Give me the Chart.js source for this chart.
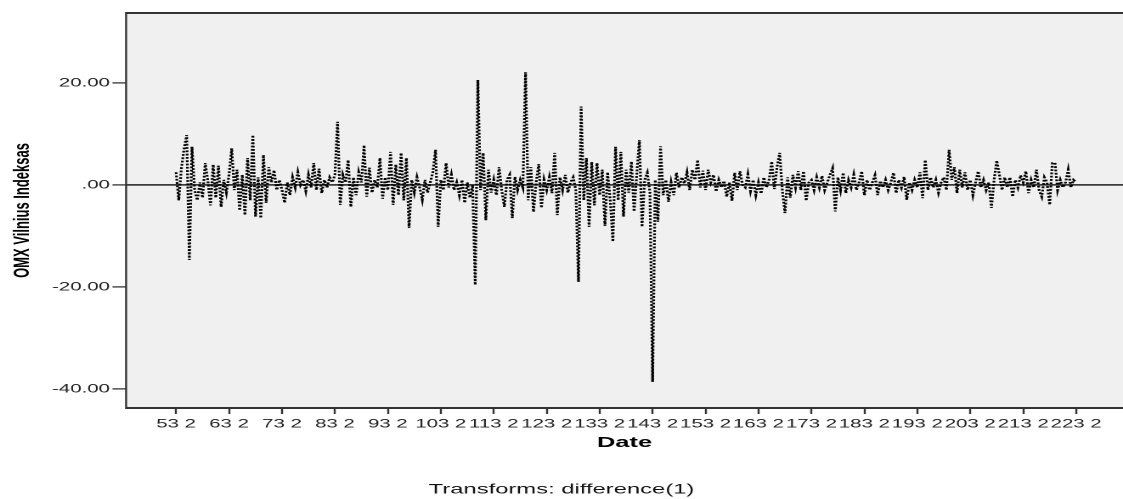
<!DOCTYPE html>
<html>
<head>
<meta charset="utf-8">
<title>OMX Vilnius Indeksas</title>
<script src="https://cdn.jsdelivr.net/npm/chart.js@4/dist/chart.umd.min.js"></script>
<style>
  html, body { margin: 0; padding: 0; background: #fff; overflow: hidden; }
  #omxChart { display: block; }
</style>
</head>
<body>
<canvas id="omxChart" width="661" height="499" style="width:1123px;height:499px"></canvas>
<script>
// date axis labels, one every 20 observations
const dateTicks = ['53 2', '63 2', '73 2', '83 2', '93 2', '103 2', '113 2', '123 2', '133 2',
  '143 2', '153 2', '163 2', '173 2', '183 2', '193 2', '203 2', '213 2', '223 2'];
const obsPerTick = 20;

const yTicks = [-40, -20, 0, 20];

// first difference of the index
const omxDiff = [
  2.5, -3, 3.3, 7, 9.8, -14.7, 7.5, -1, -3, 0.5, -2.5, 4.3, 0.8, -4, 4, -2.5, 3.8, -4.3, 1, -1.5,
  2, 7.2, -1, 3, -5, 2, -5.9, 5.3, -3, 9.8, -6.2, 1.5, -6.5, 5.9, -3.5, 3.5, 0.5, 2.9, -1, 1,
  -1, -3.5, 0.5, -2, 1.5, -0.5, 2.5, 0, 1, -1.2, 2, -0.5, 4.3, -1, 3.2, -1.6, 1, -0.5, 1.5, 0.5,
  2, 12.4, -3.9, 2, 0.5, 4.9, -4.3, 1.5, -2, 2.5, 0.5, 7.8, -2.3, 3.4, -1.5, 1, -0.5, 5.3, -2.7, 1.5,
  -1, 6.5, -3.9, 4, -2, 6.3, -3, 5.3, -8.4, 1, -1.5, 1.5, -0.5, -2.9, 1, -1.5, 0.5, 2.5, 6.9, -8.2,
  1, -1, 4.3, -0.5, 2, -1, 0.5, -2, 1, -3.5, 0.5, -2.5, 0, -19.6, 20.6, -1, 6.3, -6.9, 3, -1.5,
  1, -2, 3.5, -1, -4.3, 1, 2, -6.5, 1.6, -1, 1, -0.5, 22.1, -3, 3.5, -5.3, 0.5, 4.1, -4.5, 1,
  -1, 1.5, -1.6, 6.3, -5.9, 1.5, -1, 2, -1.5, 0.5, 1.5, -1, -19, 15.4, -3, 5.3, -8.2, 4.5, -4, 4.3,
  -2, 3, -8, 2.5, -3, -11.1, 7.5, -3, 6.5, -6.2, 3, -1.5, 4.6, -5.2, 2, 8.8, -8.2, 1, 2.4, -1.5,
  -38.6, 1, -7.2, 7.6, -2, 1, -3.3, 0.5, -2, 2.4, -0.5, 1.5, 0.3, 2.5, -1, 3, 1, 4.9, -0.5, 2.8,
  -1, 3, 0.5, 2, -1.3, 1, -0.5, 0.8, -2.3, 0.5, -3.1, 2.4, -1, 2.7, 0, -0.5, 2.1, -1.2, 1, -2,
  0.5, -1.7, 1.5, -0.5, 1, 4.6, -0.8, 3.5, 6.3, -1, -5.5, 1.5, -2.5, 2, -0.5, 2.7, -1, 2.7, -3.1, 0.5,
  1, -1, 1.5, -0.5, 1.8, -1, 0.5, 2, 3.3, -5.2, 1.5, -1, 2.4, -1.6, 1, -0.5, 2, -1, 0.5, 2.7,
  -2, 1, -1, 0.5, 1.9, -2, 0.8, -0.5, 1, -1, 0.5, 2.4, -1.6, 1, -0.5, 1.6, -2.9, 0.5, -1, 1,
  -0.5, 2.5, -2.6, 4.9, -1, 1.5, -0.5, 1, -1.5, 0.5, 1.5, -1, 6.9, 1, 3.5, -1.6, 3, -0.5, 2.5, -1,
  1, -2, 0.5, 2.7, -0.5, 1, -1, 0.5, -4.5, 1, 4.8, 2, -1, 1.5, -0.5, 1.5, -2.3, 1, -0.5, 1.9,
  0.5, 2.7, -1.6, 1, -0.5, 3, -1, -2.3, 1.5, 0.5, -3.9, 4.3, 4.4, -1, 1, -0.5, 0.5, 3, -0.5, 1, 0.5
];

Chart.defaults.font.family = '"Liberation Sans", Arial, sans-serif';

// grey plot background plus the frame round it
const plotFrame = {
  id: 'plotFrame',
  beforeDraw(chart) {
    const { ctx, chartArea: a } = chart;
    ctx.save();
    ctx.fillStyle = '#f0f0f0';
    ctx.fillRect(a.left, a.top, a.right - a.left, a.bottom - a.top);
    ctx.restore();
  },
  afterDraw(chart) {
    const { ctx, chartArea: a } = chart;
    ctx.save();
    ctx.strokeStyle = '#333';
    ctx.lineWidth = 2;
    ctx.beginPath();
    ctx.moveTo(a.left, a.top);
    ctx.lineTo(a.right, a.top);
    ctx.moveTo(a.left, a.bottom);
    ctx.lineTo(a.right, a.bottom);
    ctx.stroke();
    ctx.lineWidth = 1.2;
    ctx.beginPath();
    ctx.moveTo(a.left, a.top - 1);
    ctx.lineTo(a.left, a.bottom + 1);
    ctx.stroke();
    ctx.restore();
  }
};

const ctx = document.getElementById('omxChart').getContext('2d');
new Chart(ctx, {
  type: 'line',
  data: {
    datasets: [{
      data: omxDiff.map((v, i) => ({ x: i, y: v })),
      borderColor: '#000',
      borderWidth: 1.6,
      borderDash: [1.8, 1.5],
      pointRadius: 0,
      tension: 0,
      fill: false,
    }],
  },
  options: {
    responsive: false,
    animation: false,
    devicePixelRatio: 2,
    layout: { padding: { top: 13, right: 0, bottom: 0, left: 0 } },
    plugins: {
      legend: { display: false },
      tooltip: { enabled: false },
      title: {
        display: true,
        position: 'bottom',
        text: 'Transforms: difference(1)',
        color: '#111',
        font: { size: 14, weight: 'normal' },
        padding: { top: 23, bottom: 1 },
      },
    },
    scales: {
      x: {
        type: 'linear',
        min: -18.9,
        max: 357.7,
        afterBuildTicks: (scale) => {
          scale.ticks = dateTicks.map((_, i) => ({ value: i * obsPerTick }));
        },
        afterFit: (scale) => { scale.height = 50.2; },
        ticks: {
          autoSkip: false,
          maxRotation: 0,
          minRotation: 0,
          padding: 3,
          color: '#222',
          font: { size: 12 },
          callback: (value, index) => dateTicks[index],
        },
        grid: { drawOnChartArea: false, drawTicks: true, tickLength: 6, tickColor: '#333', tickWidth: 1.2 },
        border: { display: false },
        title: {
          display: true,
          text: 'Date',
          color: '#000',
          font: { size: 15, weight: 'bold' },
          padding: { top: 0, bottom: 6.2 },
        },
      },
      y: {
        min: -43.73,
        max: 33.73,
        afterBuildTicks: (scale) => {
          scale.ticks = yTicks.map(v => ({ value: v }));
        },
        afterFit: (scale) => { scale.width = 74.2; },
        ticks: {
          padding: 1.5,
          color: '#222',
          font: { size: 12 },
          callback: (v) => (v === 0 ? '.00' : v.toFixed(2)),
        },
        grid: {
          color: (c) => (c.tick && c.tick.value === 0 ? '#3c3c3c' : 'rgba(0,0,0,0)'),
          lineWidth: 1.8,
          tickColor: '#333',
          tickLength: 8,
          tickWidth: 1.3,
        },
        border: { display: false },
        title: {
          display: true,
          text: 'OMX Vilnius Indeksas',
          color: '#000',
          font: { size: 13, weight: 'bold' },
          padding: { top: 5.5, bottom: 0 },
        },
      },
    },
  },
  plugins: [plotFrame],
});
</script>
</body>
</html>
